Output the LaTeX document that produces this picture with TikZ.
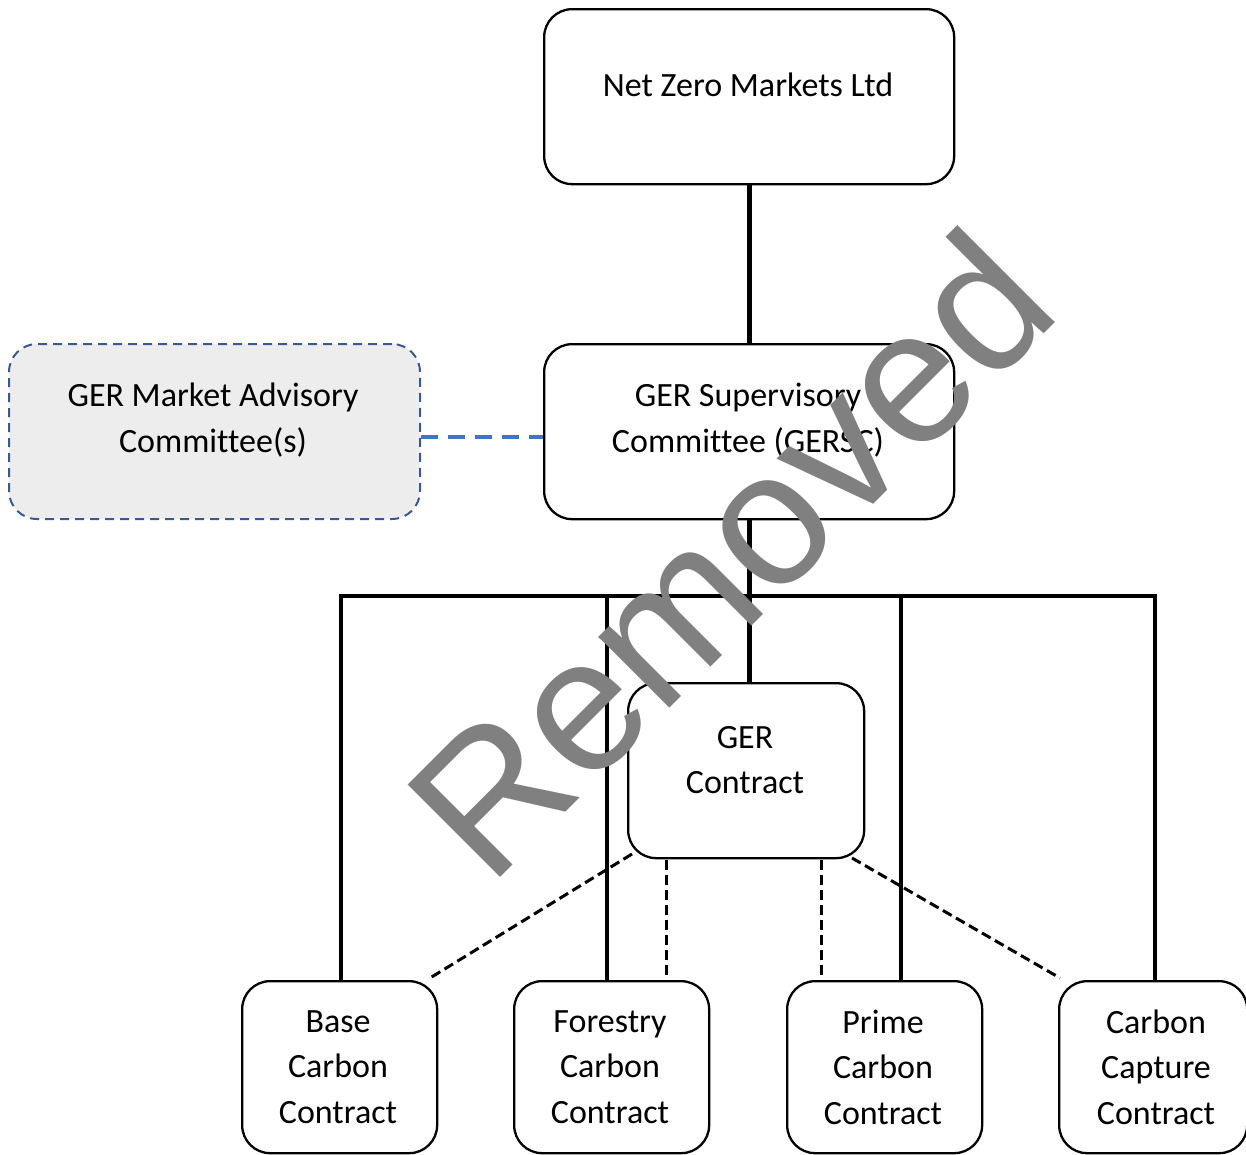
\documentclass[tikz,border=0pt]{standalone}
\usepackage{fontspec}
\setmainfont[Ligatures={NoCommon}]{Carlito}
\newfontfamily\wmfont{Liberation Sans}
\definecolor{wmgray}{HTML}{808080}
\definecolor{advblue}{HTML}{3A5A8F}
\definecolor{linkblue}{HTML}{4472C4}
\definecolor{advfill}{HTML}{EDEDED}
\begin{document}
\begin{tikzpicture}[x=1pt,y=-1pt,
  box/.style={draw=black, line width=2.3pt, rounded corners=28pt, inner sep=0pt, anchor=north west},
  lbl/.style={font=\fontsize{34}{45.5}\selectfont, align=center, inner sep=0pt},
  bar/.style={line width=4.8pt},
  dsh/.style={line width=3pt, dash pattern=on 10pt off 5pt},
  blink/.style={line width=3.2pt, draw=linkblue, dash pattern=on 17pt off 10pt},
  advbox/.style={box, draw=advblue, fill=advfill, line width=2pt, dash pattern=on 9pt off 6pt}
]
\useasboundingbox (0,0) rectangle (1246,1154);

% boxes
\node[box, minimum width=410pt, minimum height=175pt] (nzm) at (543,8) {};
\node[box, minimum width=410pt, minimum height=175pt] (gersc) at (543,343) {};
\node[advbox, minimum width=411pt, minimum height=175pt] (gmac) at (8,343) {};
\node[box, minimum width=236pt, minimum height=175pt] (gerc) at (627,682) {};
\node[box, minimum width=195pt, minimum height=172pt] (base) at (241,980) {};
\node[box, minimum width=195pt, minimum height=172pt] (forest) at (513,980) {};
\node[box, minimum width=195pt, minimum height=172pt] (prime) at (786,980) {};
\node[box, minimum width=188pt, minimum height=172pt] (ccap) at (1058,980) {};

% labels
\node[lbl] (nzmt) at (748,85) {Net Zero Markets Ltd};
\node[lbl] (gersct) at (748,420) {GER Supervisory\\Committee (GERSC)};
\node[lbl] (gmact) at (213,420) {GER Market Advisory\\Committee(s)};
\node[lbl] (gerct) at (745,760) {GER\\Contract};
\node[lbl] (baset) at (338,1067) {Base\\Carbon\\Contract};
\node[lbl] (forestt) at (610,1067) {Forestry\\Carbon\\Contract};
\node[lbl] (primet) at (883,1067) {Prime\\Carbon\\Contract};
\node[lbl] (ccapt) at (1156,1067) {Carbon\\Capture\\Contract};

% solid connectors
\draw[bar] (nzm.south) -- (gersc.north);
\draw[bar] (gersc.south) -- (gerc.north -| gersc.south);
\coordinate (busL) at (341,596);
\coordinate (bus2) at (607,596);
\coordinate (bus3) at (901,596);
\coordinate (busR) at (1155,596);
\draw[bar] ([xshift=-2pt]busL) -- ([xshift=2pt]busR);
\draw[bar] (busL) -- (busL |- base.north);
\draw[bar] (bus2) -- (bus2 |- forest.north);
\draw[bar] (bus3) -- (bus3 |- prime.north);
\draw[bar] (busR) -- (busR |- ccap.north);

% dashed connectors
\coordinate (lk) at (0,437);
\draw[blink] (gmac.east |- lk) -- (gersc.west |- lk);
\coordinate (d1s) at (632,854);
\coordinate (d1e) at (430,978);
\coordinate (d2s) at (666,860);
\coordinate (d3s) at (821,860);
\coordinate (d4s) at (852,858);
\coordinate (d4e) at (1060,978);
\draw[dsh] (d1s) -- (d1e);
\draw[dsh] (d2s) -- (d2s |- forest.north);
\draw[dsh] (d3s) -- (d3s |- prime.north);
\draw[dsh] (d4s) -- (d4e);

% watermark
\node[font=\wmfont\fontsize{190}{190}\selectfont, text=wmgray, rotate=45, anchor=base west, inner sep=0pt] (wm) at (489,889) {Removed};
\end{tikzpicture}
\end{document}
